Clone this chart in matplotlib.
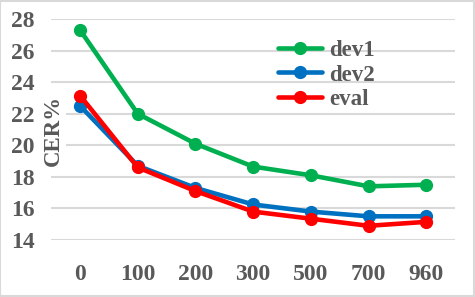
import numpy as np
import matplotlib.pyplot as plt

# Chart data
categories = ['0', '100', '200', '300', '500', '700', '960']
dev1 = [27.3, 22.0, 20.1, 18.65, 18.1, 17.4, 17.5]
dev2 = [22.5, 18.7, 17.3, 16.25, 15.8, 15.5, 15.5]
eval_ = [23.15, 18.6, 17.1, 15.8, 15.35, 14.9, 15.15]

series_names = ['dev1', 'dev2', 'eval']
series_colors = ['#00B050', '#0070C0', '#FF0000']
text_color = '#595959'

plt.rcParams['font.family'] = ['Liberation Serif', 'DejaVu Serif']
plt.rcParams['font.weight'] = 'bold'

# Creating the figure and axis
fig = plt.figure(figsize=(4.75, 2.97), dpi=100)
axs = fig.add_axes([0.1078, 0.1919, 0.958 - 0.1078, 0.936 - 0.1919])

x = np.arange(len(categories))
for vals, name, col in zip([dev1, dev2, eval_], series_names, series_colors):
    axs.plot(x, vals, color=col, linewidth=3.3, marker='o', markersize=8.5,
             label=name, solid_capstyle='round', zorder=3)

# Limits and grid
axs.set_xlim(-0.5, len(categories) - 0.5)
axs.set_ylim(14, 28)
axs.set_yticks(np.arange(14, 29, 2))
axs.set_xticks(x)
axs.set_xticklabels(categories)
axs.yaxis.grid(True, color='#D9D9D9', linewidth=1.5, zorder=0)
for s in axs.spines.values():
    s.set_visible(False)
axs.tick_params(axis='both', length=0, labelsize=17, colors=text_color)
axs.tick_params(axis='y', pad=12)
axs.tick_params(axis='x', pad=17)
for lab in axs.get_xticklabels() + axs.get_yticklabels():
    lab.set_fontweight('bold')
    lab.set_family('Liberation Serif')

# Axis title over the plot area with white background
fig.text(53 / 475, 1 - 130 / 297, 'CER%', rotation=90, ha='center', va='center',
         fontsize=16.5, fontweight='bold', color=text_color,
         bbox=dict(facecolor='white', edgecolor='none', pad=1.5), zorder=5)

leg = axs.legend(loc='upper left', bbox_to_anchor=(278 / 475, 1 - 40 / 297),
                 bbox_transform=fig.transFigure, frameon=False,
                 prop={'size': 16.5, 'weight': 'bold'}, labelspacing=0.15,
                 handlelength=1.9, handletextpad=0.35, borderpad=0, borderaxespad=0)
for t in leg.get_texts():
    t.set_color(text_color)

# Light border around the figure
fig.patches.append(plt.Rectangle((0.001, 0.002), 0.997, 0.996, transform=fig.transFigure,
                                 fill=False, edgecolor='#D9D9D9', linewidth=1.5))

plt.savefig('out.png', dpi=100)
plt.close()
